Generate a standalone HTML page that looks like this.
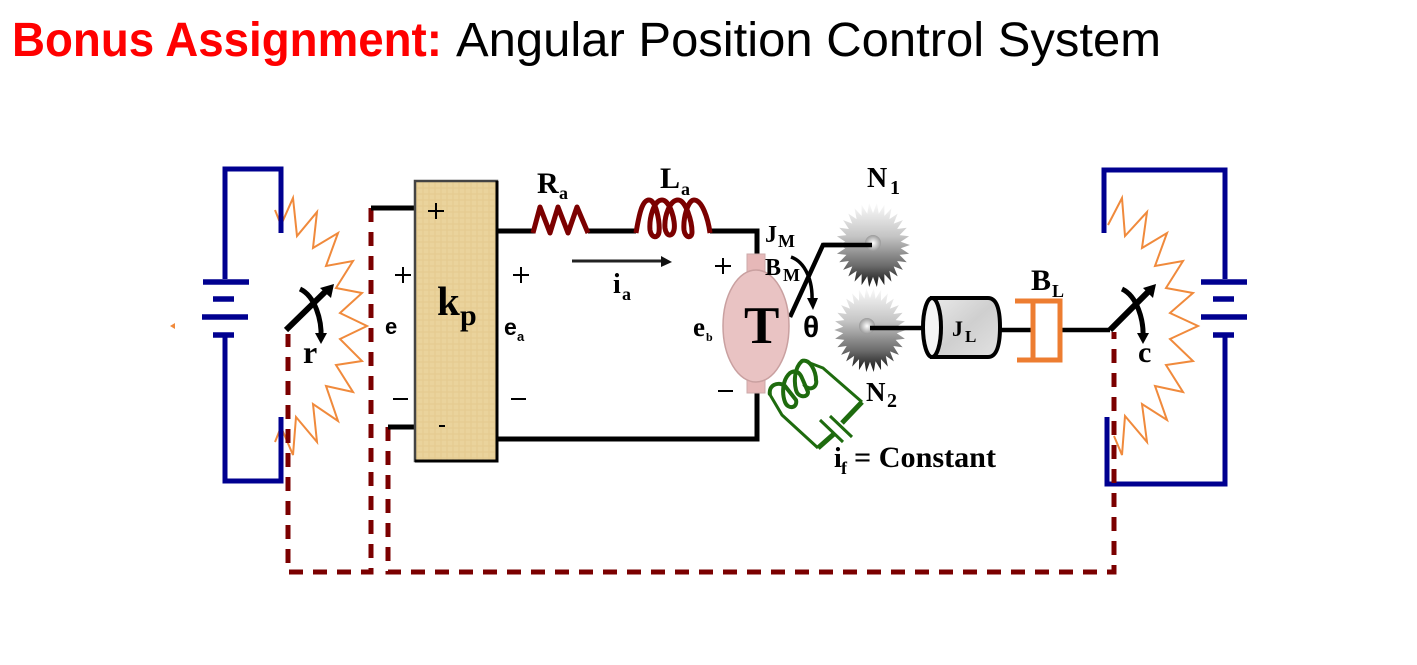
<!DOCTYPE html>
<html><head><meta charset="utf-8"><style>
html,body{margin:0;padding:0;background:#fff;width:1417px;height:665px;overflow:hidden}
svg{display:block}
.s{font-family:"Liberation Serif",serif;font-weight:bold;fill:#000}
.a{font-family:"Liberation Sans",sans-serif;font-weight:bold;fill:#000}
</style></head><body>
<svg width="1417" height="665" viewBox="0 0 1417 665" xmlns="http://www.w3.org/2000/svg">
<defs>
<linearGradient id="g" x1="0" y1="0" x2="0" y2="1"><stop offset="0" stop-color="#fbfbfb"/><stop offset=".4" stop-color="#c4c4c4"/><stop offset=".75" stop-color="#6a6a6a"/><stop offset="1" stop-color="#111"/></linearGradient>
<radialGradient id="h"><stop offset="0" stop-color="#fff"/><stop offset="1" stop-color="#9a9a9a"/></radialGradient>
<linearGradient id="c" x1="0" y1="0" x2="1" y2="1"><stop offset="0" stop-color="#e9e9e9"/><stop offset=".5" stop-color="#cfcfcf"/><stop offset="1" stop-color="#e2e2e2"/></linearGradient>
<polygon id="gear" fill="url(#g)" points="41,0 30.8,3.2 40.1,8.5 29.5,9.6 37.5,16.7 26.8,15.5 33.2,24.1 23,20.7 27.4,30.5 18.2,25.1 20.5,35.5 12.6,28.3 12.7,39 6.4,30.3 4.3,40.8 0,31 -4.3,40.8 -6.4,30.3 -12.7,39 -12.6,28.3 -20.5,35.5 -18.2,25.1 -27.4,30.5 -23,20.7 -33.2,24.1 -26.8,15.5 -37.5,16.7 -29.5,9.6 -40.1,8.5 -30.8,3.2 -41,0 -30.8,-3.2 -40.1,-8.5 -29.5,-9.6 -37.5,-16.7 -26.8,-15.5 -33.2,-24.1 -23,-20.7 -27.4,-30.5 -18.2,-25.1 -20.5,-35.5 -12.6,-28.3 -12.7,-39 -6.4,-30.3 -4.3,-40.8 0,-31 4.3,-40.8 6.4,-30.3 12.7,-39 12.6,-28.3 20.5,-35.5 18.2,-25.1 27.4,-30.5 23,-20.7 33.2,-24.1 26.8,-15.5 37.5,-16.7 29.5,-9.6 40.1,-8.5 30.8,-3.2"/>
<pattern id="tex" width="6" height="6" patternUnits="userSpaceOnUse"><rect width="6" height="6" fill="#ead39c"/><path d="M0 2H6M3 0V6" stroke="#e4ca8e" stroke-width="1"/></pattern>
</defs>

<text x="12" y="56" font-family="'Liberation Sans',sans-serif" font-weight="bold" font-size="48" fill="#ff0000" textLength="430" lengthAdjust="spacingAndGlyphs">Bonus Assignment:</text>
<text x="456" y="56" font-family="'Liberation Sans',sans-serif" font-size="48" fill="#000" textLength="705" lengthAdjust="spacingAndGlyphs">Angular Position Control System</text>

<!-- potentiometer zigzags -->
<g fill="none" stroke="#f08a3c" stroke-width="2">
<polyline points="275,210 281,225 293,198 297,236 317,212 313,248 338,233 326,266 353,261 336,288 362,293 340,313 367,326 340,339 362,361 336,365 353,392 326,386 338,421 313,404 317,442 296,417 293,455 281,427 275,442"/>
<polyline points="1108,225 1122,198 1125,236 1147,212 1142,248 1167,233 1155,266 1183,261 1166,288 1193,293 1170,313 1198,326 1170,339 1193,361 1166,365 1183,392 1155,386 1167,420 1142,404 1147,442 1125,416 1122,455 1114,436"/>
</g>
<polygon points="170,326 175,323 175,329" fill="#f08a3c"/>

<!-- blue circuits -->
<g fill="none" stroke="#000090" stroke-width="5">
<polyline points="281,233 281,169 225,169 225,279"/>
<polyline points="225,336 225,481 281,481 281,417"/>
<polyline points="1104,233 1104,170 1225,170 1225,279"/>
<polyline points="1225,336 1225,484 1107,484 1107,417"/>
<g stroke-width="5.5">
<path d="M203 282H249M213 299H234M202 317H248M213 335H234"/>
<path d="M1201 282H1247M1213 299H1234M1201 317H1247M1213 335H1234"/>
</g>
</g>

<!-- dashed feedback -->
<g fill="none" stroke="#7b0000" stroke-width="5" stroke-dasharray="14 10">
<polyline points="371,208 371,572 288,572 288,334"/>
<polyline points="388,427 388,572 1114,572 1114,332"/>
</g>

<!-- black wiring -->
<g fill="none" stroke="#000" stroke-width="5">
<path d="M371 208H416M388 427H416"/>
<path d="M497 231H535M588 231H636M710 231H757V256"/>
<path d="M497 439H757V392"/>
<path d="M790 317L823 245H872" stroke-width="4.5"/>
<path d="M1000 330H1032M1060 330H1110" stroke-width="4.5"/>
</g>

<!-- kp box -->
<rect x="415" y="181" width="82" height="280" fill="url(#tex)" stroke="#444" stroke-width="2.5"/>
<path d="M497 181V461H415" fill="none" stroke="#000" stroke-width="3"/>

<!-- resistor -->
<polyline points="533,233 540,207 550,233 558,207 568,233 577,207 588,233" fill="none" stroke="#7b0000" stroke-width="5" stroke-linejoin="round"/>
<!-- inductor -->
<path d="M636 233C639 215 642 200 649 200C656 200 660 222 659 232C658 239 651 238 650 230C649 218 654 200 662 200C670 200 676 222 674 230C672 238 666 236 665 228C664 216 670 200 678 200C686 200 692 222 692 232C692 239 685 238 684 230C683 218 688 200 694 200C702 200 708 218 710 233" fill="none" stroke="#7b0000" stroke-width="5"/>

<!-- ia arrow -->
<path d="M572 261H665" stroke="#222" stroke-width="3"/>
<polygon points="661,256 672,262 661,267" fill="#111"/>

<!-- motor -->
<rect x="747" y="254" width="18" height="20" fill="#e6b8b8" stroke="#caa" stroke-width="1"/>
<rect x="747" y="378" width="18" height="15" fill="#e6b8b8" stroke="#caa" stroke-width="1"/>
<ellipse cx="756" cy="326" rx="33" ry="56" fill="#e9c3c3" stroke="#c9a0a0" stroke-width="1.5"/>

<!-- gears -->
<use href="#gear" transform="translate(873 245) scale(.9 1.03)"/>
<use href="#gear" transform="translate(870 330) scale(.87 1.03)"/>
<circle cx="873" cy="243" r="8" fill="url(#h)"/>
<circle cx="867" cy="326" r="8" fill="url(#h)"/>
<path d="M823 245H872" stroke="#000" stroke-width="4.5"/>
<path d="M870 328H924" stroke="#000" stroke-width="4.5"/>

<!-- JL cylinder -->
<path d="M932 298H988Q1000 298 1000 327Q1000 357 988 357H932Z" fill="url(#c)" stroke="#000" stroke-width="4"/>
<ellipse cx="932" cy="327.500" rx="9" ry="29.500" fill="#f4f4f4" stroke="#000" stroke-width="4"/>

<!-- BL damper -->
<g fill="none" stroke="#ed7d31" stroke-width="5">
<path d="M1015 301H1060V360H1017"/>
<path d="M1033 302V358"/>
</g>

<!-- field -->
<g fill="none" stroke="#1e6b0e">
<path d="M802 360L823 368L862 402" stroke-width="3"/>
<path d="M769 393L782 415L818 448" stroke-width="3"/>
<path d="M770 395C768 385 778 381 785 386L796 400C798 408 788 410 785 402C782 394 782 380 790 373C796 369 800 373 802 378L808 392C808 398 798 398 796 390C794 382 794 368 802 361C810 358 816 372 816 380C818 388 808 392 804 384" stroke-width="4"/>
<path d="M862 402L842 423M835 433L818 448" stroke-width="5"/>
<path d="M820 420L843 442M830 416L852 437" stroke-width="3"/>
</g>

<!-- wipers -->
<g stroke="#000" stroke-width="6" fill="none">
<path d="M286 330L326 291"/><path d="M1110 330L1149 291"/>
<path d="M300 289C315 296 322 320 321 338" stroke-width="5"/><path d="M1122 289C1137 296 1144 320 1143 338" stroke-width="5"/>
<path d="M791 257C805 262 813 280 812 302" stroke-width="3.500"/>
</g>
<polygon points="320,288 334,284 331,298" fill="#000"/>
<polygon points="1143,288 1156,284 1153,298" fill="#000"/>
<polygon points="315,333 327,333 321,344" fill="#000"/>
<polygon points="1137,333 1149,333 1143,344" fill="#000"/>
<polygon points="807,298 818,298 813,310" fill="#000"/>

<!-- plus / minus -->
<g stroke="#000" stroke-width="2" fill="none">
<path d="M428 211H444M436 203V219M395 275H411M403 267V283M513 275H529M521 267V283M715 266H731M723 258V274"/>
<path d="M393 399H408M511 399H526M718 391H733"/>
<path d="M439 426H445"/>
</g>

<!-- labels -->
<text class="s" x="537" y="193" font-size="30">R</text><text class="s" x="559" y="199" font-size="18">a</text>
<text class="s" x="660" y="188" font-size="30">L</text><text class="s" x="681" y="195" font-size="18">a</text>
<text class="s" x="613" y="293" font-size="28">i</text><text class="s" x="622" y="300" font-size="18">a</text>
<text class="a" x="504" y="335" font-size="23">e</text><text class="a" x="517" y="341" font-size="13">a</text>
<text class="s" x="693" y="336" font-size="27">e</text><text class="s" x="706" y="341" font-size="12">b</text>
<text class="s" x="765" y="242" font-size="24">J</text><text class="s" x="778" y="247" font-size="18">M</text>
<text class="s" x="765" y="275" font-size="24">B</text><text class="s" x="783" y="281" font-size="18">M</text>
<text class="s" x="744" y="343" font-size="53">T</text>
<text class="a" x="803" y="337" font-size="30">θ</text>
<text class="s" x="867" y="187" font-size="28">N</text><text class="s" x="890" y="194" font-size="20">1</text>
<text class="s" x="866" y="401" font-size="27">N</text><text class="s" x="887" y="407" font-size="20">2</text>
<text class="s" x="834" y="467" font-size="28">i</text><text class="s" x="841" y="474" font-size="18">f</text>
<text class="s" x="854" y="467" font-size="30" textLength="142" lengthAdjust="spacingAndGlyphs">= Constant</text>
<text class="s" x="952" y="336" font-size="22">J</text><text class="s" x="965" y="342" font-size="17">L</text>
<text class="s" x="1031" y="290" font-size="30">B</text><text class="s" x="1052" y="297" font-size="18">L</text>
<text class="s" x="437" y="315" font-size="41">k</text><text class="s" x="460" y="325" font-size="30">p</text>
<text class="s" x="303" y="363" font-size="32">r</text>
<text class="s" x="1138" y="362" font-size="30">c</text>
<text class="a" x="385" y="334" font-size="22">e</text>
</svg>
</body></html>
